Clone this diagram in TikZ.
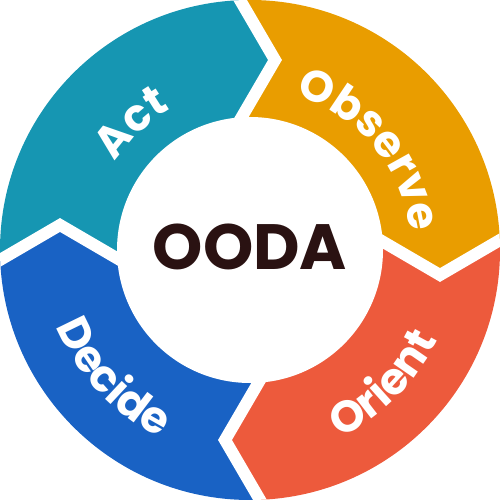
\documentclass[tikz,border=0pt]{standalone}
\usepackage{fontspec}
\setmainfont{Poppins}
\usetikzlibrary{calc,decorations.text}
\definecolor{actc}{HTML}{1696B2}
\definecolor{obsc}{HTML}{E99D00}
\definecolor{oric}{HTML}{ED5A3C}
\definecolor{decc}{HTML}{1962C4}
\definecolor{oodac}{HTML}{2A1212}
\newcommand\lblfont{\fontsize{44}{44}\selectfont\bfseries}
\newcommand\mkdiv[2]{%
  \coordinate (#1tip) at ($(#2:190pt)+(#2-90:25pt)$);
  \coordinate (#1out) at ($(#2:310pt)+(#2-90:-45pt)$);
  \coordinate (#1in) at ($(#2:70pt)+(#2-90:-45pt)$);}
\tikzset{
  gap/.style={draw=white, line width=12pt, line join=miter, miter limit=10},
  lbl/.style={decorate, decoration={text along path, text align=center, text color=white, text={|\lblfont|#1}}}
}
\begin{document}
\begin{tikzpicture}
\useasboundingbox (-250pt,-250pt) rectangle (250pt,250pt);
\coordinate (O) at (0pt,0pt);
\mkdiv{T}{90}
\mkdiv{R}{0}
\mkdiv{B}{-90}
\mkdiv{L}{180}
\begin{scope}
\clip (O) circle (250pt);
\fill[actc] (Lin) -- (Ltip) -- (Lout) -- (160:400pt) -- (130:400pt) -- (100:400pt) -- (Tout) -- (Ttip) -- (Tin) -- (O) -- cycle;
\fill[obsc] (Tin) -- (Ttip) -- (Tout) -- (70:400pt) -- (40:400pt) -- (10:400pt) -- (Rout) -- (Rtip) -- (Rin) -- (O) -- cycle;
\fill[oric] (Rin) -- (Rtip) -- (Rout) -- (-20:400pt) -- (-50:400pt) -- (-80:400pt) -- (Bout) -- (Btip) -- (Bin) -- (O) -- cycle;
\fill[decc] (Bin) -- (Btip) -- (Bout) -- (-110:400pt) -- (-140:400pt) -- (-170:400pt) -- (Lout) -- (Ltip) -- (Lin) -- (O) -- cycle;
\draw[gap] (Tin) -- (Ttip) -- (Tout);
\draw[gap] (Rin) -- (Rtip) -- (Rout);
\draw[gap] (Bin) -- (Btip) -- (Bout);
\draw[gap] (Lin) -- (Ltip) -- (Lout);
\fill[white] (O) circle (133pt);
\end{scope}
\node[font=\fontsize{64}{64}\selectfont\bfseries, text=oodac] (ooda) at (0pt,3pt) {OODA};
\path[lbl=Act] (165:161pt) arc[start angle=165, end angle=101, radius=161pt];
\path[lbl=Observe] (80:161pt) arc[start angle=80, end angle=0, radius=161pt];
\path[lbl=Orient] (-85:208pt) arc[start angle=-85, end angle=-5, radius=208pt];
\path[lbl=Decide] (183:208pt) arc[start angle=183, end angle=263, radius=208pt];
\end{tikzpicture}
\end{document}
